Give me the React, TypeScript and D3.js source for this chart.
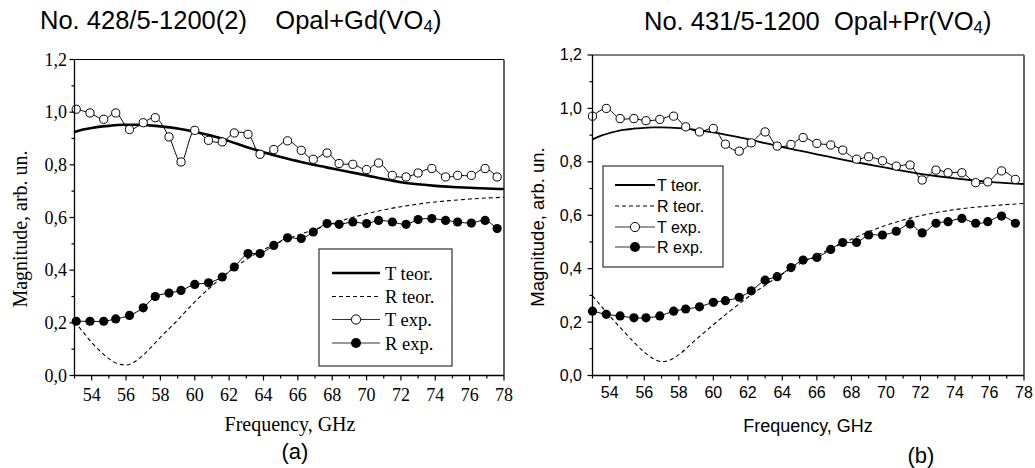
import React from "react";
import * as d3 from "d3";

// ---------- data ----------
const teorFreq = [53, 53.5, 54, 54.5, 55, 55.5, 56, 56.5, 57, 57.5, 58, 59, 60, 61, 62, 63, 64, 65, 66, 67, 68, 69, 70, 71, 72, 73, 74, 75, 76, 77, 78];

const tTeorA = [0.925, 0.934, 0.94, 0.945, 0.948, 0.951, 0.952, 0.952, 0.951, 0.949, 0.946, 0.938, 0.926, 0.91, 0.89, 0.868, 0.848, 0.83, 0.814, 0.799, 0.786, 0.773, 0.76, 0.746, 0.734, 0.726, 0.72, 0.716, 0.713, 0.71, 0.708];
const rTeorA = [0.205, 0.165, 0.125, 0.092, 0.064, 0.045, 0.04, 0.052, 0.078, 0.11, 0.145, 0.21, 0.28, 0.34, 0.395, 0.44, 0.478, 0.508, 0.533, 0.555, 0.576, 0.597, 0.614, 0.629, 0.641, 0.651, 0.659, 0.665, 0.67, 0.674, 0.677];

const freqA = [53.1, 53.9, 54.7, 55.4, 56.2, 57.0, 57.7, 58.5, 59.2, 60.0, 60.8, 61.6, 62.3, 63.1, 63.8, 64.6, 65.4, 66.2, 66.9, 67.7, 68.4, 69.2, 70.0, 70.7, 71.5, 72.3, 73.0, 73.8, 74.6, 75.3, 76.1, 76.9, 77.6];
const tExpA = [1.011, 0.997, 0.973, 0.997, 0.934, 0.96, 0.979, 0.906, 0.811, 0.931, 0.893, 0.887, 0.921, 0.916, 0.84, 0.858, 0.891, 0.855, 0.821, 0.845, 0.805, 0.802, 0.782, 0.807, 0.76, 0.754, 0.769, 0.786, 0.754, 0.76, 0.76, 0.786, 0.754];
const rExpA = [0.206, 0.206, 0.206, 0.215, 0.228, 0.257, 0.3, 0.313, 0.323, 0.346, 0.352, 0.374, 0.412, 0.463, 0.463, 0.494, 0.523, 0.52, 0.545, 0.577, 0.574, 0.583, 0.577, 0.589, 0.583, 0.574, 0.592, 0.596, 0.589, 0.583, 0.579, 0.589, 0.558];

const tTeorB = [0.884, 0.898, 0.908, 0.916, 0.921, 0.925, 0.927, 0.929, 0.929, 0.928, 0.926, 0.92, 0.91, 0.898, 0.885, 0.87, 0.855, 0.842, 0.828, 0.815, 0.802, 0.79, 0.778, 0.766, 0.755, 0.746, 0.738, 0.731, 0.725, 0.72, 0.717];
const rTeorB = [0.298, 0.26, 0.222, 0.187, 0.152, 0.118, 0.088, 0.064, 0.052, 0.058, 0.078, 0.135, 0.19, 0.243, 0.293, 0.338, 0.38, 0.418, 0.45, 0.48, 0.51, 0.538, 0.562, 0.582, 0.598, 0.611, 0.621, 0.629, 0.635, 0.64, 0.644];

const freqB = [53.0, 53.8, 54.6, 55.4, 56.1, 56.9, 57.7, 58.4, 59.2, 60.0, 60.7, 61.5, 62.2, 63.0, 63.7, 64.5, 65.2, 66.0, 66.8, 67.5, 68.3, 69.0, 69.8, 70.6, 71.4, 72.1, 72.9, 73.6, 74.4, 75.2, 75.9, 76.7, 77.5];
const tExpB = [0.971, 1.0, 0.962, 0.962, 0.954, 0.959, 0.971, 0.931, 0.912, 0.925, 0.866, 0.84, 0.871, 0.912, 0.859, 0.865, 0.891, 0.869, 0.863, 0.844, 0.81, 0.819, 0.804, 0.784, 0.788, 0.732, 0.769, 0.759, 0.759, 0.722, 0.725, 0.766, 0.734];
const rExpB = [0.241, 0.229, 0.223, 0.216, 0.216, 0.223, 0.241, 0.249, 0.257, 0.274, 0.28, 0.293, 0.317, 0.357, 0.37, 0.404, 0.432, 0.442, 0.472, 0.498, 0.498, 0.526, 0.526, 0.54, 0.567, 0.534, 0.57, 0.576, 0.588, 0.57, 0.576, 0.597, 0.57];

const xDomain = [53, 78];
const yDomain = [0, 1.2];
const xMajorTicks = [54, 56, 58, 60, 62, 64, 66, 68, 70, 72, 74, 76, 78];
const xMinorTicks = [53, 55, 57, 59, 61, 63, 65, 67, 69, 71, 73, 75, 77];
const yMajorTicks = [0, 0.2, 0.4, 0.6, 0.8, 1.0, 1.2];
const yMinorTicks = [0.1, 0.3, 0.5, 0.7, 0.9, 1.1];
const legendLabels = ["T teor.", "R teor.", "T exp.", "R exp."];

const SERIF = "'Liberation Serif', 'Times New Roman', serif";
const SANS = "'Liberation Sans', Arial, sans-serif";

const fmt = (v: number) => d3.format(".1f")(v).replace(".", ",");

type PanelCfg = {
  x0: number; x1: number; y0: number; y1: number;
  font: string; tickSize: number; tickLabelRight: number; xLabelBase: number;
  tTeor: number[]; rTeor: number[]; freq: number[]; tExp: number[]; rExp: number[];
  teorWidth: number; r: number;
  legend: { x: number; y: number; w: number; h: number; rows: number[]; lx0: number; lx1: number; tx: number; fs: number; teorW: number; base: number };
  yTitle: { x: number; y: number; fs: number };
  xTitle: { x: number; y: number; fs: number };
};

function Panel({ c }: { c: PanelCfg }) {
  const x = d3.scaleLinear().domain(xDomain).range([c.x0, c.x1]);
  const y = d3.scaleLinear().domain(yDomain).range([c.y0, c.y1]);
  const teorLine = d3.line<number>().x((_, i) => x(teorFreq[i])).y((d) => y(d)).curve(d3.curveMonotoneX);
  const expLine = d3.line<number>().x((_, i) => x(c.freq[i])).y((d) => y(d)).curve(d3.curveCatmullRom.alpha(0.5));
  const L = c.legend;
  const mid = (L.lx0 + L.lx1) / 2;
  return (
    <g>
      {/* frame */}
      <line x1={c.x0} x2={c.x1} y1={c.y1} y2={c.y1} stroke="#000" strokeWidth={1.2} />
      <line x1={c.x1} x2={c.x1} y1={c.y1} y2={c.y0} stroke="#555" strokeWidth={1.8} />
      {/* curves */}
      <path d={teorLine(c.rTeor) || ""} fill="none" stroke="#000" strokeWidth={1.1} strokeDasharray="4,3" />
      <path d={teorLine(c.tTeor) || ""} fill="none" stroke="#000" strokeWidth={c.teorWidth} />
      <path d={expLine(c.tExp) || ""} fill="none" stroke="#000" strokeWidth={1} />
      <path d={expLine(c.rExp) || ""} fill="none" stroke="#000" strokeWidth={1} />
      {c.tExp.map((v, i) => (
        <circle key={"t" + i} cx={x(c.freq[i])} cy={y(v)} r={c.r} fill="#fff" stroke="#000" strokeWidth={1} />
      ))}
      {c.rExp.map((v, i) => (
        <circle key={"r" + i} cx={x(c.freq[i])} cy={y(v)} r={c.r + 0.5} fill="#000" />
      ))}
      {/* axes */}
      <line x1={c.x0} x2={c.x1} y1={c.y0} y2={c.y0} stroke="#000" strokeWidth={1.3} />
      <line x1={c.x0} x2={c.x0} y1={c.y0} y2={c.y1} stroke="#000" strokeWidth={1.3} />
      {xMajorTicks.map((t) => (
        <g key={"xm" + t}>
          <line x1={x(t)} x2={x(t)} y1={c.y0} y2={c.y0 + 5} stroke="#000" strokeWidth={1.2} />
          <text x={x(t)} y={c.xLabelBase} textAnchor="middle" fontFamily={c.font} fontSize={c.tickSize}>{t}</text>
        </g>
      ))}
      {xMinorTicks.map((t) => (
        <line key={"xn" + t} x1={x(t)} x2={x(t)} y1={c.y0} y2={c.y0 + 3} stroke="#000" strokeWidth={1.2} />
      ))}
      {yMajorTicks.map((t) => (
        <g key={"ym" + t}>
          <line x1={c.x0 - 5} x2={c.x0} y1={y(t)} y2={y(t)} stroke="#000" strokeWidth={1.2} />
          <text x={c.tickLabelRight} y={y(t) + c.tickSize * 0.34} textAnchor="end" fontFamily={c.font} fontSize={c.tickSize}>{fmt(t)}</text>
        </g>
      ))}
      {yMinorTicks.map((t) => (
        <line key={"yn" + t} x1={c.x0 - 3} x2={c.x0} y1={y(t)} y2={y(t)} stroke="#000" strokeWidth={1.2} />
      ))}
      {/* axis titles */}
      <text transform={`translate(${c.yTitle.x},${c.yTitle.y}) rotate(-90)`} textAnchor="middle" fontFamily={c.font} fontSize={c.yTitle.fs}>Magnitude, arb. un.</text>
      <text x={c.xTitle.x} y={c.xTitle.y} textAnchor="middle" fontFamily={c.font} fontSize={c.xTitle.fs}>Frequency, GHz</text>
      {/* legend */}
      <rect x={L.x} y={L.y} width={L.w} height={L.h} fill="#fff" stroke="#333" strokeWidth={1.2} />
      <line x1={L.lx0} x2={L.lx1} y1={L.rows[0]} y2={L.rows[0]} stroke="#000" strokeWidth={L.teorW} />
      <line x1={L.lx0} x2={L.lx1} y1={L.rows[1]} y2={L.rows[1]} stroke="#000" strokeWidth={1} strokeDasharray="4,3" />
      <line x1={L.lx0} x2={L.lx1} y1={L.rows[2]} y2={L.rows[2]} stroke="#333" strokeWidth={1} />
      <circle cx={mid} cy={L.rows[2]} r={c.r + 0.5} fill="#fff" stroke="#000" strokeWidth={1} />
      <line x1={L.lx0} x2={L.lx1} y1={L.rows[3]} y2={L.rows[3]} stroke="#333" strokeWidth={1} />
      <circle cx={mid} cy={L.rows[3]} r={c.r + 0.9} fill="#000" />
      {legendLabels.map((lab, i) => (
        <text key={lab} x={L.tx} y={L.rows[i] + L.base} fontFamily={c.font} fontSize={L.fs}>{lab}</text>
      ))}
    </g>
  );
}

const panelA: PanelCfg = {
  x0: 74.5, x1: 504, y0: 375.5, y1: 59.5,
  font: SERIF, tickSize: 18, tickLabelRight: 67, xLabelBase: 401,
  tTeor: tTeorA, rTeor: rTeorA, freq: freqA, tExp: tExpA, rExp: rExpA,
  teorWidth: 2.6, r: 4.1,
  legend: { x: 319, y: 249, w: 133, h: 117, rows: [273, 296.5, 319.5, 343], lx0: 332, lx1: 380, tx: 385, fs: 18.5, teorW: 2.6, base: 6.5 },
  yTitle: { x: 27, y: 229, fs: 20 },
  xTitle: { x: 290, y: 431, fs: 20 },
};

const panelB: PanelCfg = {
  x0: 592.5, x1: 1024, y0: 375.5, y1: 55,
  font: SANS, tickSize: 16, tickLabelRight: 582, xLabelBase: 398,
  tTeor: tTeorB, rTeor: rTeorB, freq: freqB, tExp: tExpB, rExp: rExpB,
  teorWidth: 1.8, r: 4.1,
  legend: { x: 603, y: 166, w: 120, h: 101, rows: [185, 206, 227, 247], lx0: 615, lx1: 655, tx: 657, fs: 16, teorW: 1.8, base: 5.8 },
  yTitle: { x: 544, y: 227, fs: 18.5 },
  xTitle: { x: 808, y: 432, fs: 18 },
};

const titleA = "No. 428/5-1200(2)    Opal+Gd(VO";
const titleB = "No. 431/5-1200  Opal+Pr(VO";

export default function App() {
  return (
    <svg width={1035} height={468} style={{ position: "absolute", left: 0, top: 0, background: "#fff" }}>
      <rect x={0} y={0} width={1035} height={468} fill="#fff" />
      <Panel c={panelA} />
      <Panel c={panelB} />
      <text x={40} y={29} fontFamily={SANS} fontSize={25.5} style={{ whiteSpace: "pre" }}>
        {titleA}<tspan fontSize={17} dy={3}>4</tspan><tspan dy={-3}>)</tspan>
      </text>
      <text x={644} y={30} fontFamily={SANS} fontSize={25.5} style={{ whiteSpace: "pre" }}>
        {titleB}<tspan fontSize={17} dy={3}>4</tspan><tspan dy={-3}>)</tspan>
      </text>
      <text x={295} y={459} textAnchor="middle" fontFamily={SANS} fontSize={22}>(a)</text>
      <text x={921} y={463} textAnchor="middle" fontFamily={SANS} fontSize={22}>(b)</text>
    </svg>
  );
}
